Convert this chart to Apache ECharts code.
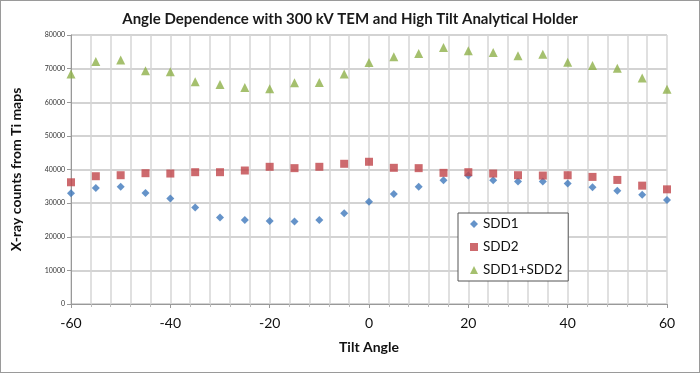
<!DOCTYPE html>
<html>
<head>
<meta charset="utf-8">
<script src="https://cdn.jsdelivr.net/npm/echarts@6/dist/echarts.min.js"></script>
<style>
html,body{margin:0;padding:0;background:#fff;}
#chart{width:700px;height:373px;box-sizing:border-box;border:1px solid #9a9a9a;}
</style>
</head>
<body>
<div id="chart"></div>
<script>
const angles = [-60,-55,-50,-45,-40,-35,-30,-25,-20,-15,-10,-5,0,5,10,15,20,25,30,35,40,45,50,55,60];
const sdd1 = [32900,34500,34900,33000,31400,28700,25700,25000,24700,24500,25000,27000,30400,32700,34900,36800,38200,36800,36400,36400,35800,34700,33700,32500,30900];
const sdd2 = [36200,38000,38300,38900,38800,39200,39200,39700,40800,40400,40800,41700,42300,40500,40400,39000,39200,38800,38300,38200,38300,37800,36900,35200,34100];
const sum12 = [68400,72100,72600,69400,69100,66100,65300,64400,64000,65800,65900,68400,71800,73500,74500,76300,75300,74800,73800,74300,71900,70900,70100,67200,63900];
const seriesNames = ['SDD1','SDD2','SDD1+SDD2'];
const titleText = 'Angle Dependence with 300 kV TEM and High Tilt Analytical Holder';
const xName = 'Tilt Angle';
const yName = 'X-ray counts from Ti maps';

const pair = (ys) => angles.map((a,i)=>[a, ys[i]]);
const FONT = 'Lato, "Open Sans", sans-serif';
const chart = echarts.init(document.getElementById('chart'), null, {renderer:'canvas'});
chart.setOption({
  animation:false,
  backgroundColor:'#fff',
  textStyle:{fontFamily:FONT},
  title:{text:titleText,left:'center',top:6,textStyle:{fontSize:15,fontWeight:'bold',color:'#1a1a1a',fontFamily:FONT}},
  grid:{left:66,right:32,top:34,bottom:68,containLabel:false},
  legend:{
    orient:'vertical',left:457,top:212,
    padding:[3,6,3,12],
    itemWidth:8,itemHeight:8,itemGap:7,
    backgroundColor:'#fff',borderColor:'#555',borderWidth:1,
    textStyle:{fontSize:13.5,color:'#111',lineHeight:16,fontFamily:FONT},
    data:[
      {name:seriesNames[0],icon:'diamond'},
      {name:seriesNames[1],icon:'rect'},
      {name:seriesNames[2],icon:'triangle'}
    ]
  },
  xAxis:{
    type:'value',min:-60,max:60,interval:20,
    name:xName,nameLocation:'middle',nameGap:36,
    nameTextStyle:{fontSize:14,fontWeight:'bold',color:'#111',fontFamily:FONT},
    axisLine:{show:true,onZero:false,lineStyle:{color:'#999'}},
    axisTick:{show:true,length:4,lineStyle:{color:'#999'}},
    minorTick:{show:true,splitNumber:5,length:3,lineStyle:{color:'#bbb'}},
    axisLabel:{fontSize:14,color:'#111',margin:12,fontFamily:FONT},
    splitLine:{show:true,lineStyle:{color:'#d6d6d6',width:1.5}},
    minorSplitLine:{show:true,lineStyle:{color:'#d6d6d6',width:1.5}}
  },
  yAxis:{
    type:'value',min:0,max:80000,interval:10000,
    name:yName,nameLocation:'middle',nameGap:48,
    nameTextStyle:{fontSize:14,fontWeight:'bold',color:'#111',fontFamily:FONT},
    axisLine:{show:true,onZero:false,lineStyle:{color:'#999'}},
    axisTick:{show:true,length:4,lineStyle:{color:'#999'}},
    axisLabel:{fontSize:7,color:'#333',margin:6,fontFamily:FONT,formatter:(v)=>String(v)},
    splitLine:{show:true,lineStyle:{color:'#c4c4c4',width:1.5}}
  },
  series:[
    {name:seriesNames[0],type:'scatter',symbol:'diamond',symbolSize:8,data:pair(sdd1),itemStyle:{color:'#3f78bb'}},
    {name:seriesNames[1],type:'scatter',symbol:'rect',symbolSize:8,data:pair(sdd2),itemStyle:{color:'#c0454a'}},
    {name:seriesNames[2],type:'scatter',symbol:'triangle',symbolSize:9,data:pair(sum12),itemStyle:{color:'#8fb04a'}}
  ]
});
</script>
</body>
</html>
